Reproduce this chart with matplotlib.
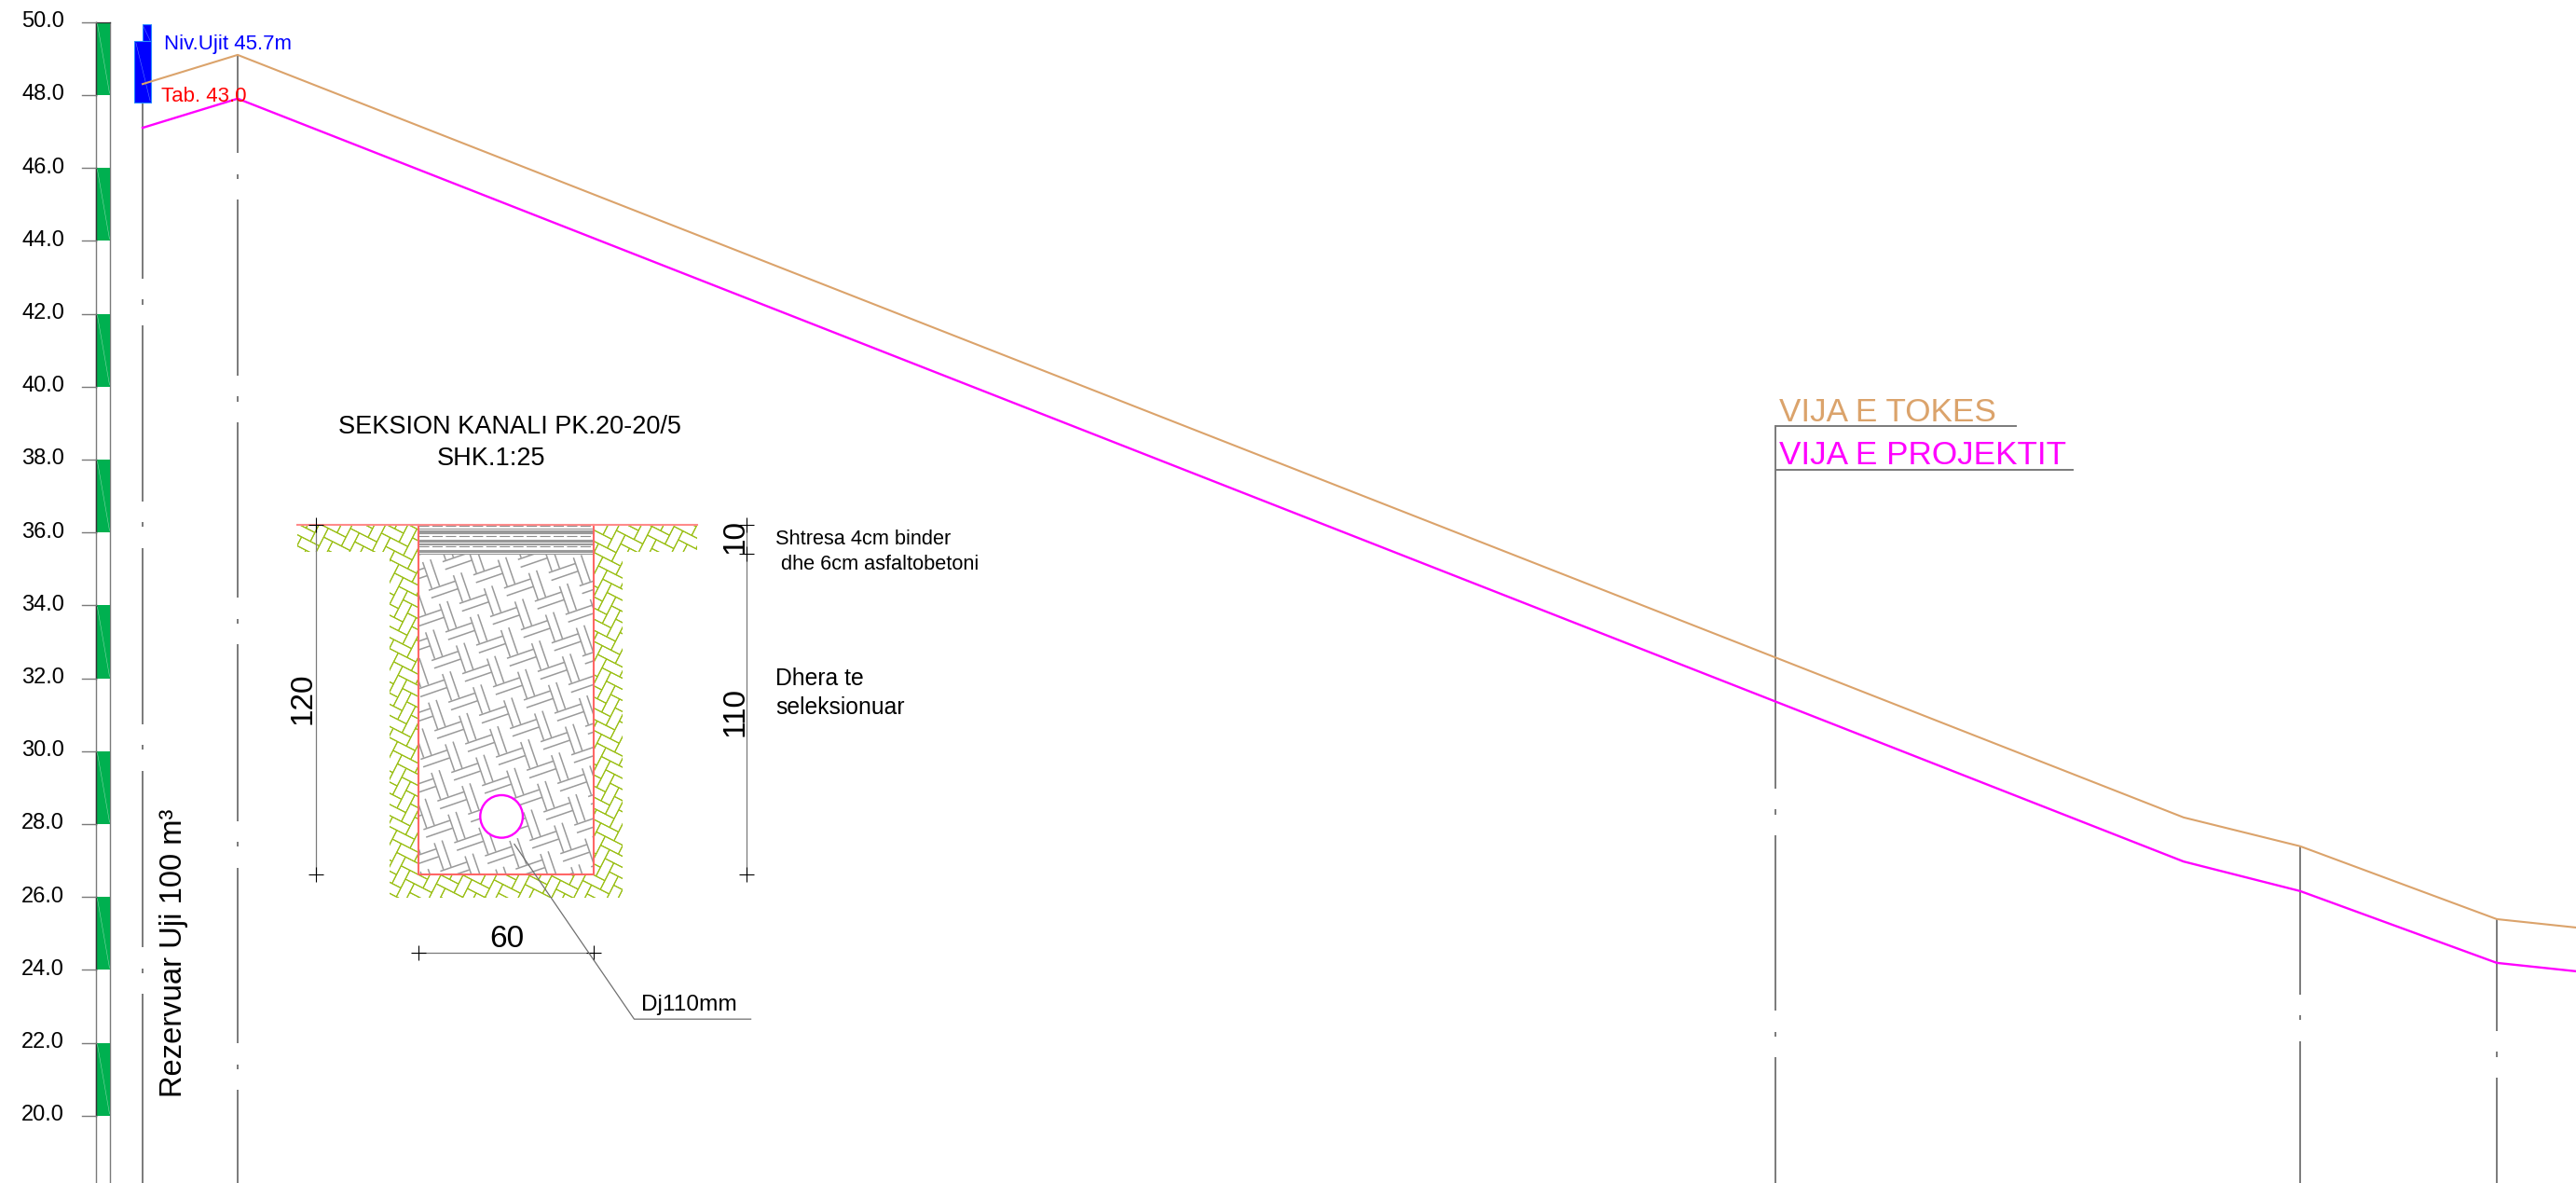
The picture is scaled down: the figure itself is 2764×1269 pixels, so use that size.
import numpy as np
import matplotlib
matplotlib.use("Agg")
import matplotlib.pyplot as plt
from matplotlib.collections import LineCollection
from matplotlib.patches import Circle, PathPatch, Rectangle
from matplotlib.path import Path
from matplotlib.transforms import Affine2D

plt.rcParams['font.family'] = ['Liberation Sans', 'DejaVu Sans']

# long profile: chainage (drawing units) and elevation in m
terrain_x = [153, 255, 2343, 2468, 2679, 2764]
terrain_y = [48.30, 49.10, 28.18, 27.39, 25.39, 25.16]
project_x = [153, 255, 2343, 2468, 2679, 2764]
project_y = [47.10, 47.90, 26.97, 26.16, 24.19, 23.96]

# elevation staff
staff_ticks = [50, 48, 46, 44, 42, 40, 38, 36, 34, 32, 30, 28, 26, 24, 22, 20]
staff_green = [48, 44, 40, 36, 32, 28, 24, 20]

# vertical station lines: x, top elevation, centres of the breaks
station_x = [153, 255, 1905, 2468, 2679]
station_top = [47.80, 49.10, 38.91, 27.39, 25.39]
station_gaps = [
    [42.32, 36.21, 30.10, 23.98],
    [45.77, 39.66, 33.57, 27.44, 21.34],
    [28.33, 22.24],
    [22.68],
    [21.68],
]

# canal section, all in cm
trench_width = 60
trench_depth = 120
layer_depth = 10
pipe_x = 28.4
pipe_depth = 100
pipe_radius = 7.3

TAN = '#DBA36B'
MAGENTA = '#FF00FF'
GRAY = '#7A7A7A'
RED = '#FF6666'
OLIVE = '#9ABF14'

W, H = 2764, 1269
fig = plt.figure(figsize=(W / 100, H / 100), dpi=100)

# main axes: x in drawing units, y in metres
ax = fig.add_axes([0, 0, 1, 1])
ax.set_xlim(0, W)
ax.set_ylim(50 - (H - 23.7) / 39.1, 50 + 23.7 / 39.1)
ax.axis('off')

# section axes: cm with the same scale in both directions
PX_CM = 3.128
sec = fig.add_axes([0, 0, 1, 1])
sec.set_xlim(-449.3 / PX_CM, (W - 449.3) / PX_CM)
sec.set_ylim((H - 563) / PX_CM, -563 / PX_CM)
sec.axis('off')
sec.patch.set_alpha(0)

# pixel position helper for the labels
px = Affine2D().scale(1, -1).translate(0, H)


def label(x, y, s, size, color='black', **kw):
    ax.text(x, y, s, fontsize=size, color=color, transform=px, ha=kw.pop('ha', 'left'),
            va=kw.pop('va', 'baseline'), clip_on=False, **kw)


# ---- staff ----
for low in staff_green:
    ax.bar(110.8, 2, width=14.5, bottom=low, color='#00B050', edgecolor='none', zorder=2)
    ax.plot([103.3, 103.3], [low, low + 2], color='#303030', lw=1.0, zorder=3)
    ax.plot([104.5, 117.5], [low + 1.95, low + 0.05], color='#7FD8A8', lw=0.4, zorder=3)
ax.plot([103.3, 103.3], [ax.get_ylim()[0], 50], color=GRAY, lw=1.0, zorder=1)
ax.plot([118, 118], [ax.get_ylim()[0], 50], color=GRAY, lw=1.0, zorder=1)
ax.plot([103.3, 118], [50, 50], color='#303030', lw=0.9, zorder=3)
for t in staff_ticks:
    ax.plot([88, 103.3], [t, t], color=GRAY, lw=1.0, zorder=3)
    label(69, 23.7 + (50 - t) * 39.1 + 5.5, f"{t:.1f}", 17, ha='right')

# ---- station lines with breaks ----
for x, top, gaps in zip(station_x, station_top, station_gaps):
    upper = top
    for g in gaps:
        ax.plot([x, x], [upper, g + 0.64], color=GRAY, lw=1.4, zorder=1, solid_capstyle='butt')
        ax.plot([x, x], [g + 0.065, g - 0.065], color=GRAY, lw=1.4, zorder=1, solid_capstyle='butt')
        upper = g - 0.64
    ax.plot([x, x], [upper, ax.get_ylim()[0]], color=GRAY, lw=1.4, zorder=1, solid_capstyle='butt')

# ---- water tank ----
ax.fill([153, 162, 162, 153], [49.94, 49.94, 49.47, 49.47], fc='#0000FF', ec='#2A8CFF', lw=0.8, zorder=2)
ax.fill([144.5, 162, 162, 144.5], [49.47, 49.47, 47.80, 47.80], fc='#0000FF', ec='#2A8CFF', lw=0.8, zorder=2)
ax.plot([146, 161], [49.42, 47.85], color='#5A78FF', lw=0.4, zorder=3)
ax.plot([153.5, 161], [49.9, 49.5], color='#5A78FF', lw=0.4, zorder=3)

# ---- profile lines ----
ax.plot(terrain_x, terrain_y, color=TAN, lw=1.5, zorder=4)
ax.plot(project_x, project_y, color=MAGENTA, lw=1.7, zorder=4)

# ---- legend leaders ----
ax.plot([1905, 2163], [38.91, 38.91], color=GRAY, lw=1.4)
ax.plot([1905, 2224], [37.72, 37.72], color=GRAY, lw=1.4)
label(1909, 451.7, "VIJA E TOKES", 25.3, TAN)
label(1909, 498.3, "VIJA E PROJEKTIT", 25.3, MAGENTA)

label(176, 53, "Niv.Ujit 45.7m", 16, '#0000FF')
label(173, 109, "Tab. 43.0", 16, '#FF0000', zorder=5)
label(195, 1177, "Rezervuar Uji 100 m³", 23.6, rotation=90, ha='left', rotation_mode='anchor')

# ---- section: soil hatch ----
soil = Path([(-41.7, 0), (95.5, 0), (95.5, 9.3), (70, 9.3), (70, 128), (-10, 128),
             (-10, 9.3), (-41.7, 9.3), (-41.7, 0)], closed=False)
soil_clip = PathPatch(soil, fc='none', ec='none')
sec.add_patch(soil_clip)

b = 3.4
ang = np.deg2rad(27)
rot = np.array([[np.cos(ang), -np.sin(ang)], [np.sin(ang), np.cos(ang)]])
segs = []
for m in range(-30, 31):
    for n in range(-30, 31):
        ox, oy = m + 2 * n, m - 2 * n
        for (x0, y0, w, h) in [(ox, oy, 2, 1), (ox + 2, oy - 1, 1, 2)]:
            c = [(x0, y0), (x0 + w, y0), (x0 + w, y0 + h), (x0, y0 + h), (x0, y0)]
            c = (rot @ (np.array(c, float).T * b)).T + np.array([10.0, 3.0])
            segs.extend([[c[i], c[i + 1]] for i in range(4)])
lc = LineCollection(segs, colors=OLIVE, linewidths=0.8, zorder=2)
sec.add_collection(lc)
lc.set_clip_path(soil_clip)

# ---- section: trench fill ----
sec.add_patch(Rectangle((0, 0), trench_width, trench_depth, fc='white', ec='none', zorder=3))
fill_clip = Rectangle((0, layer_depth), trench_width, trench_depth - layer_depth, fc='none', ec='none')
sec.add_patch(fill_clip)
a2 = np.deg2rad(19)
e1 = np.array([np.cos(a2), -np.sin(a2)])
e2 = np.array([np.sin(a2), np.cos(a2)])
org = np.array([8.4, 22.2])
half_len = 4.8
half_gap = 1.39
segs = []
for i in range(-15, 15):
    for j in range(-15, 25):
        c = org + (i * 16.2 + j * 8.5) * e1 + j * 7.7 * e2
        c2 = c + 6.3 * e1 + 1.3 * e2
        for k in (-half_gap, half_gap):
            p = c + k * e2
            segs.append([p - e1 * half_len, p + e1 * half_len])
            p = c2 + k * e1
            segs.append([p - e2 * half_len, p + e2 * half_len])
lc2 = LineCollection(segs, colors='#9A9A9A', linewidths=1.1, zorder=4)
sec.add_collection(lc2)
lc2.set_clip_path(fill_clip)

# asphalt layers
for d0, d1 in [(1.4, 3.1), (5.1, 6.7), (8.6, 10)]:
    for d in np.arange(d0, d1 + 0.01, 0.4):
        sec.plot([0, trench_width], [d, d], color='#999999', lw=0.8, zorder=4)
for d in (0.4, 3.9, 7.5):
    sec.plot([0, trench_width], [d, d], color='#8C8C8C', lw=0.8, ls=(0, (10, 3)), zorder=4)

# outline
sec.plot([0, 0, trench_width, trench_width], [0, trench_depth, trench_depth, 0], color=RED, lw=1.5, zorder=5)
sec.plot([-41.7, 95.5], [0, 0], color='#FF8A8A', lw=1.5, zorder=5)

# pipe
sec.add_patch(Circle((pipe_x, pipe_depth), pipe_radius, fc='white', ec=MAGENTA, lw=1.7, zorder=6))

# ---- section: dimensions ----
dim_left = -35.2
dim_right = 112.4
dim_low = 146.6
sec.plot([dim_left, dim_left], [0, trench_depth], color=GRAY, lw=0.9, zorder=2)
sec.plot([dim_right, dim_right], [0, trench_depth], color=GRAY, lw=0.9, zorder=2)
sec.plot([0, trench_width], [dim_low, dim_low], color=GRAY, lw=0.9, zorder=2)
cross_x = [dim_left, dim_left, dim_right, dim_right, dim_right, 0, trench_width]
cross_y = [0, trench_depth, 0, layer_depth, trench_depth, dim_low, dim_low]
sec.plot(cross_x, cross_y, ls='none', marker='+', ms=12, mew=0.8, color='black', zorder=7)

# pipe leader
sec.plot([32.8, 73.9, 113.9], [109.5, 169.5, 169.5], color='#707070', lw=0.9, zorder=7)

label(333, 749, "120", 24, rotation=90, ha='center', va='baseline', rotation_mode='anchor')
label(797, 763, "110", 24, rotation=90, ha='center', va='baseline', rotation_mode='anchor')
label(797, 575.5, "10", 24, rotation=90, ha='center', va='baseline', rotation_mode='anchor')
label(543.6, 1016, "60", 24, ha='center')
label(688, 1084, "Dj110mm", 17.6)
label(362.7, 465, "SEKSION KANALI PK.20-20/5", 19.5)
label(469, 499, "SHK.1:25", 19.5)
label(832, 584, "Shtresa 4cm binder", 15.7)
label(838, 610.7, "dhe 6cm asfaltobetoni", 15.7)
label(832, 735, "Dhera te", 17.8)
label(832, 765.7, "seleksionuar", 17.8)

fig.savefig("out.png", dpi=100, facecolor='white')
